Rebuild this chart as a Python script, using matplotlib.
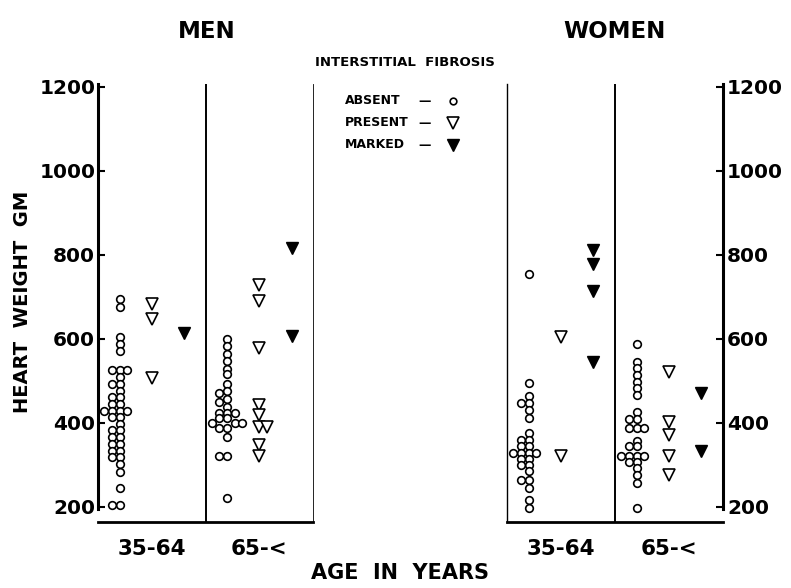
import matplotlib
matplotlib.use("Agg")
import matplotlib.pyplot as plt
from matplotlib.lines import Line2D

plt.rcParams['font.family'] = ['DejaVu Sans']
plt.rcParams['font.weight'] = 'bold'

# ---------------- data: heart weight (gm) ----------------
sexes = ["MEN", "WOMEN"]
age_groups = ["35-64", "65-<"]
fibrosis_levels = ["ABSENT", "PRESENT", "MARKED"]
y_ticks = [200, 400, 600, 800, 1000, 1200]

men_young_absent = [694, 675, 604, 588, 572, 525, 525, 525, 509, 493, 493, 477,
                    461, 461, 445, 445, 429, 429, 429, 429, 413, 413, 398, 382,
                    382, 366, 366, 350, 350, 334, 334, 318, 318, 302, 284, 245,
                    205, 205]
men_young_present = [683, 647, 506]
men_young_marked = [613]

men_old_absent = [599, 582, 564, 547, 529, 516, 493, 475, 472, 456, 450, 438,
                  424, 424, 424, 411, 411, 400, 400, 400, 389, 389, 367, 320,
                  320, 221]
men_old_present = [729, 691, 578, 443, 419, 391, 391, 348, 320]
men_old_marked = [816, 607]

women_young_absent = [754, 494, 463, 447, 447, 431, 411, 375, 359, 359, 344, 344,
                      328, 328, 328, 328, 314, 314, 299, 299, 285, 264, 264, 246,
                      217, 197]
women_young_present = [605, 320]
women_young_marked = [812, 778, 714, 544]

women_old_absent = [588, 546, 530, 514, 498, 483, 467, 425, 409, 409, 387, 387,
                    387, 358, 344, 344, 321, 321, 321, 321, 308, 308, 292, 276,
                    256, 197]
women_old_present = [522, 401, 371, 321, 276]
women_old_marked = [472, 332]

groups = {
    "MEN": [
        {"ABSENT": men_young_absent, "PRESENT": men_young_present, "MARKED": men_young_marked},
        {"ABSENT": men_old_absent, "PRESENT": men_old_present, "MARKED": men_old_marked},
    ],
    "WOMEN": [
        {"ABSENT": women_young_absent, "PRESENT": women_young_present, "MARKED": women_young_marked},
        {"ABSENT": women_old_absent, "PRESENT": women_old_present, "MARKED": women_old_marked},
    ],
}

# ---------------- styles ----------------
styles = {
    "ABSENT": dict(marker='o', ms=5.5, mfc='white', mec='black', mew=1.2),
    "PRESENT": dict(marker='v', ms=8, mfc='white', mec='black', mew=1.2),
    "MARKED": dict(marker='v', ms=8.5, mfc='black', mec='black', mew=1.0),
}
level_pos = {"ABSENT": 0.2, "PRESENT": 0.5, "MARKED": 0.8}
swarm_gap = {"ABSENT": 13, "PRESENT": 20, "MARKED": 20}
swarm_order = {"ABSENT": [0, -1, 1, -2, 2, -3, 3],
               "PRESENT": [0, 1, -1, 2, -2],
               "MARKED": [0, 1, -1, 2, -2]}
slot_width = 0.07


def swarm_offsets(values, gap, order):
    used = {}
    out = []
    for v in values:
        for s in order:
            if all(abs(v - u) >= gap for u in used.get(s, [])):
                used.setdefault(s, []).append(v)
                out.append(s)
                break
        else:
            out.append(0)
    return out


W, H = 791, 588
fig = plt.figure(figsize=(W / 100, H / 100), dpi=100)


def axes_px(x0, x1, y0, y1):
    return fig.add_axes([x0 / W, 1 - y1 / H, (x1 - x0) / W, (y1 - y0) / H])


ax_m = axes_px(98, 313, 84, 522)
ax_w = axes_px(507, 723, 84, 522)

for ax, sex in ((ax_m, "MEN"), (ax_w, "WOMEN")):
    ax.set_xlim(0, 2)
    ax.set_ylim(164, 1207)
    ax.axvline(1, color='black', lw=1.4)
    for gi, grp in enumerate(groups[sex]):
        for lvl in fibrosis_levels:
            vals = grp[lvl]
            offs = swarm_offsets(vals, swarm_gap[lvl], swarm_order[lvl])
            xs = [gi + level_pos[lvl] + o * slot_width for o in offs]
            ax.plot(xs, vals, ls='none', clip_on=False, **styles[lvl])
    ax.spines['top'].set_visible(False)
    ax.spines['bottom'].set_linewidth(2.0)
    ax.set_xticks([0.5, 1.5])
    ax.set_xticklabels(age_groups, fontsize=15.5)
    ax.tick_params(axis='x', length=0, pad=12)
    ax.set_yticks(y_ticks)
    ax.set_yticklabels([str(t) for t in y_ticks], fontsize=14.5)

# men: axis on left
ax_m.spines['left'].set_linewidth(2.2)
ax_m.spines['left'].set_bounds(196, 1207)
ax_m.spines['right'].set_linewidth(0.6)
ax_m.tick_params(axis='y', direction='in', length=5, width=1.5, pad=2)

# women: axis on right
ax_w.spines['left'].set_linewidth(1.0)
ax_w.spines['right'].set_linewidth(2.2)
ax_w.spines['right'].set_bounds(196, 1207)
ax_w.yaxis.tick_right()
ax_w.yaxis.set_label_position('right')
ax_w.tick_params(axis='y', direction='in', length=5, width=1.5, pad=3)

# titles and labels
fig.text(207 / W, 1 - 31 / H, "MEN", ha='center', va='center', fontsize=16.5)
fig.text(614 / W, 1 - 31 / H, "WOMEN", ha='center', va='center', fontsize=16.5)
fig.text(405 / W, 1 - 62 / H, "INTERSTITIAL  FIBROSIS", ha='center', va='center', fontsize=9.5)
fig.text(23 / W, 1 - 302 / H, "HEART  WEIGHT  GM", ha='center', va='center',
         rotation=90, fontsize=14)
fig.text(400 / W, 1 - 573 / H, "AGE  IN  YEARS", ha='center', va='center', fontsize=15)

# legend (text, dash, symbol)
legend_rows_y = [101, 123, 145]
for lvl, ry in zip(fibrosis_levels, legend_rows_y):
    yf = 1 - ry / H
    fig.text(345 / W, yf, lvl, ha='left', va='center', fontsize=9)
    fig.text(425 / W, yf, "\u2014", ha='center', va='center', fontsize=9)
    st = dict(styles[lvl])
    if lvl == "ABSENT":
        st['ms'] = 4.8
    fig.add_artist(Line2D([453 / W], [yf], transform=fig.transFigure, ls='none', **st))

fig.savefig("out.png", dpi=100)
